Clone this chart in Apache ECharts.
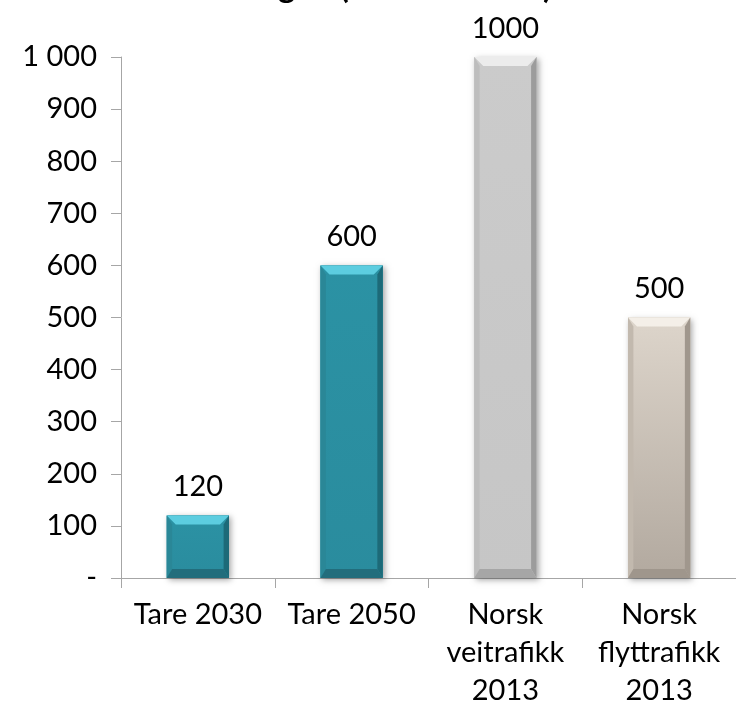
<!DOCTYPE html>
<html>
<head>
<meta charset="utf-8">
<script src="https://cdn.jsdelivr.net/npm/echarts@6/dist/echarts.min.js"></script>
<style>
  html, body { margin: 0; padding: 0; background: #ffffff; }
  #chart { width: 736px; height: 710px; }
</style>
</head>
<body>
<div id="chart"></div>
<script>
// Categories and values
var categories = ['Tare 2030', 'Tare 2050', 'Norsk\nveitrafikk\n2013', 'Norsk\nflyttrafikk\n2013'];
var values = [120, 600, 1000, 500];
var yTicks = [0, 100, 200, 300, 400, 500, 600, 700, 800, 900, 1000];

// Bevel palettes per bar: face (top/bottom), top, left, right, bottom bevel
var palettes = [
  { faceTop: '#2b92a4', faceBottom: '#2a8c9e', top: '#5ccde0', left: '#2a8797', right: '#1d6a78', bottom: '#226d7c' },
  { faceTop: '#2b92a4', faceBottom: '#2a8c9e', top: '#5ccde0', left: '#2a8797', right: '#1d6a78', bottom: '#226d7c' },
  { faceTop: '#cbcbcb', faceBottom: '#c6c6c6', top: '#ececec', left: '#bdbdbd', right: '#9c9c9c', bottom: '#a6a6a6' },
  { faceTop: '#ddd5cb', faceBottom: '#b2a99f', top: '#f4efe8', left: '#c2b9ae', right: '#a0978d', bottom: '#9f968c' }
];

var FONT = 'Lato, "Open Sans", sans-serif';

function renderBar(params, api) {
  var idx = api.value(0);
  var val = api.value(1);
  var top = api.coord([idx, val]);
  var base = api.coord([idx, 0]);
  var bw = api.size([1, 0])[0] * 0.405;
  var x0 = top[0] - bw / 2, x1 = top[0] + bw / 2;
  var y0 = top[1], y1 = base[1];
  var b = Math.min(9, (y1 - y0) / 3);
  var p = palettes[params.dataIndex];
  return {
    type: 'group',
    children: [
      { type: 'rect', shape: { x: x0, y: y0, width: bw, height: y1 - y0 },
        style: { fill: p.faceTop, shadowBlur: 6, shadowOffsetX: 2, shadowOffsetY: 2, shadowColor: 'rgba(0,0,0,0.35)' } },
      { type: 'rect', shape: { x: x0, y: y0, width: bw, height: y1 - y0 },
        style: { fill: new echarts.graphic.LinearGradient(0, 0, 0, 1, [
          { offset: 0, color: p.faceTop }, { offset: 1, color: p.faceBottom }]) } },
      { type: 'polygon', shape: { points: [[x0, y0], [x1, y0], [x1 - b, y0 + b], [x0 + b, y0 + b]] },
        style: { fill: p.top } },
      { type: 'polygon', shape: { points: [[x0, y0], [x0 + b * 0.6, y0 + b], [x0 + b * 0.6, y1 - b], [x0, y1]] },
        style: { fill: p.left } },
      { type: 'polygon', shape: { points: [[x1, y0], [x1 - b * 0.6, y0 + b], [x1 - b * 0.6, y1 - b], [x1, y1]] },
        style: { fill: p.right } },
      { type: 'polygon', shape: { points: [[x0, y1], [x1, y1], [x1 - b * 0.6, y1 - b], [x0 + b * 0.6, y1 - b]] },
        style: { fill: p.bottom } },
      { type: 'text', style: { text: String(val), x: top[0], y: y0 - 14, align: 'center', verticalAlign: 'bottom',
        font: '29px ' + FONT, fill: '#000000' } }
    ]
  };
}

var chart = echarts.init(document.getElementById('chart'));
chart.setOption({
  animation: false,
  backgroundColor: '#ffffff',
  title: {
    text: 'Drivstoffmengde (millioner liter)',
    left: 84,
    top: -29,
    padding: 0,
    textStyle: { fontFamily: FONT, fontSize: 33, fontWeight: 'bold', color: '#000000' }
  },
  grid: { left: 121, right: -6, top: 57, bottom: 132 },
  xAxis: {
    type: 'category',
    data: categories,
    axisLine: { lineStyle: { color: '#a6a6a6', width: 1 } },
    axisTick: { show: true, length: 10, alignWithLabel: false, lineStyle: { color: '#a6a6a6' } },
    axisLabel: { color: '#000000', fontFamily: FONT, fontSize: 29, lineHeight: 38, margin: 18, interval: 0 }
  },
  yAxis: {
    type: 'value',
    min: yTicks[0],
    max: yTicks[yTicks.length - 1],
    interval: 100,
    axisLine: { show: true, lineStyle: { color: '#a6a6a6', width: 1 } },
    axisTick: { show: true, length: 10, inside: false, lineStyle: { color: '#a6a6a6' } },
    splitLine: { show: false },
    axisLabel: {
      color: '#000000', fontFamily: FONT, fontSize: 29, margin: 24,
      formatter: function (v) {
        if (v === 0) return '-';
        return v >= 1000 ? String(v).replace(/\B(?=(\d{3})+(?!\d))/g, ' ') : String(v);
      }
    }
  },
  series: [{
    type: 'custom',
    renderItem: renderBar,
    clip: false,
    data: values.map(function (v, i) { return [i, v]; }),
    encode: { x: 0, y: 1 }
  }]
});
</script>
</body>
</html>
